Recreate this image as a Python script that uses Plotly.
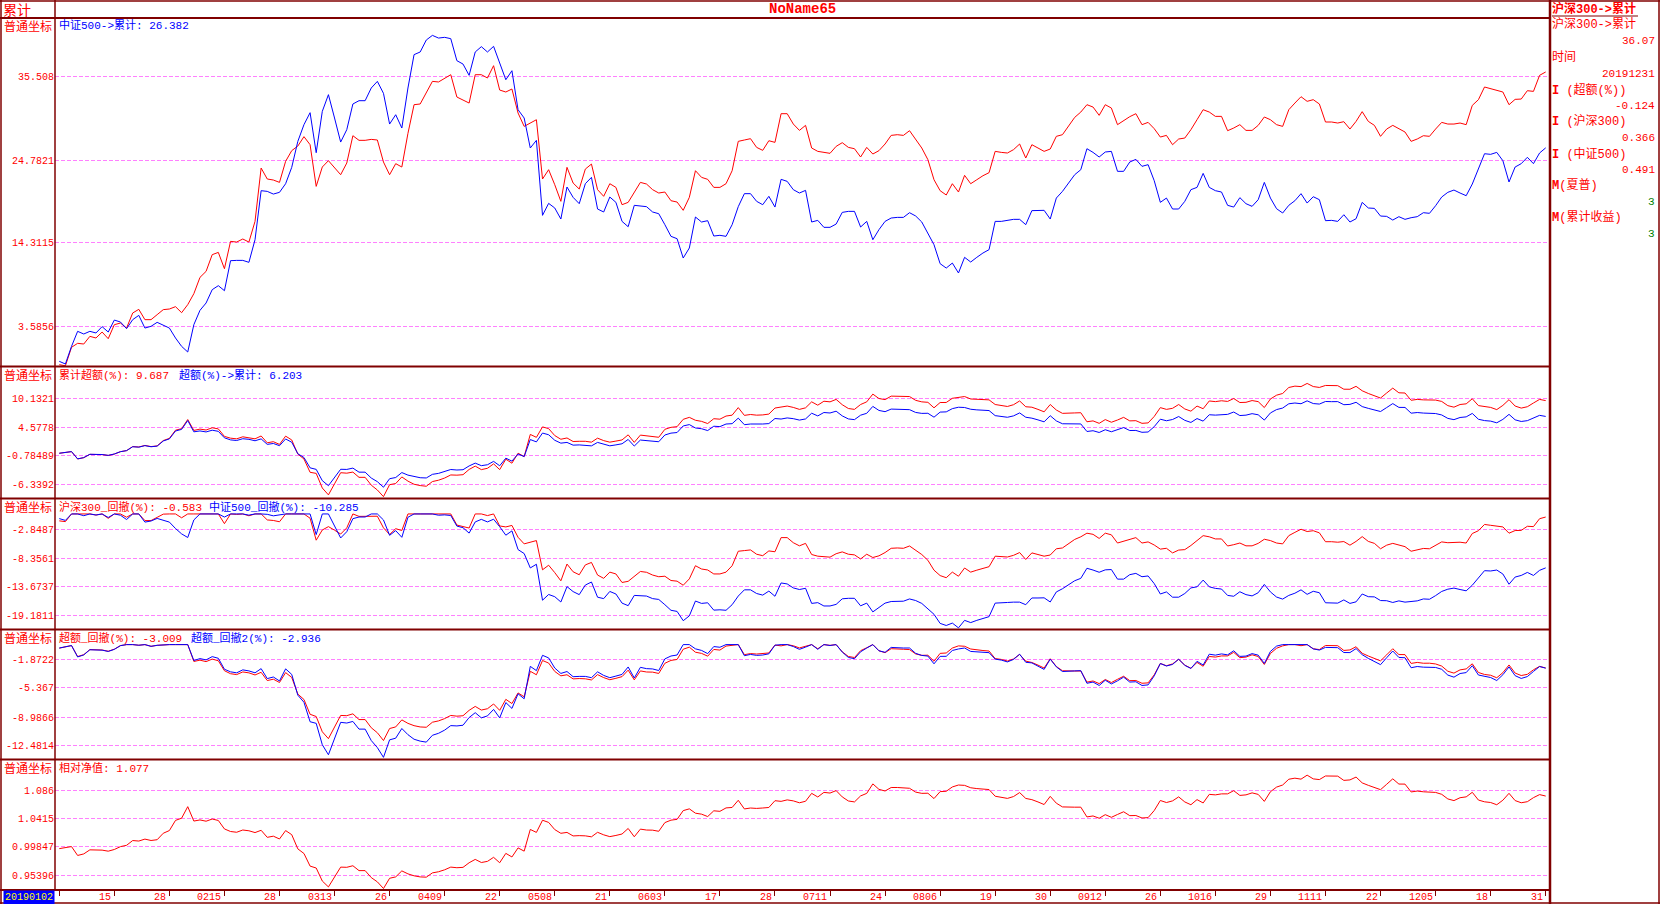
import numpy as np
import plotly.graph_objs as go

# cumulative return (%) since 2018-12-28 close, one value per 2019 trading day
hs300_cum = [
    -1.31, -1.45, 0.91, 1.42, 1.33, 2.31, 2.10, 2.86, 2.01, 3.80,
    4.01, 3.37, 5.29, 5.76, 4.44, 4.44, 5.08, 5.72, 5.80, 6.10,
    5.33, 6.36, 7.76, 9.84, 10.61, 12.74, 13.03, 10.95, 14.44, 14.35,
    14.74, 14.35, 16.99, 23.80, 22.40, 22.27, 21.97, 24.66, 26.02, 26.61,
    27.81, 26.78, 21.46, 23.93, 24.74, 23.89, 22.95, 24.44, 27.93, 27.34,
    27.34, 27.46, 27.38, 24.57, 22.95, 24.36, 23.93, 28.23, 31.89, 31.98,
    33.38, 34.87, 34.79, 35.30, 35.72, 32.87, 32.53, 32.10, 35.72, 35.72,
    35.30, 36.87, 33.76, 33.51, 33.89, 30.83, 29.12, 29.55, 29.97, 22.40,
    23.59, 21.67, 19.55, 23.89, 21.89, 21.12, 23.67, 24.31, 21.04, 20.19,
    21.80, 21.33, 19.12, 19.42, 20.70, 21.97, 21.76, 21.04, 20.61, 20.74,
    19.63, 19.46, 18.40, 20.06, 23.46, 22.61, 22.36, 21.33, 21.33, 21.80,
    23.46, 27.21, 27.38, 27.55, 26.44, 26.06, 27.29, 27.08, 30.74, 30.74,
    29.42, 28.61, 29.25, 26.36, 25.93, 25.80, 25.68, 26.57, 27.04, 26.44,
    26.27, 25.21, 26.44, 25.59, 26.02, 26.87, 27.97, 28.06, 27.97, 28.57,
    27.42, 26.36, 24.87, 22.31, 20.91, 20.36, 21.80, 20.74, 22.87, 21.80,
    22.31, 22.82, 23.21, 25.93, 25.80, 25.72, 26.15, 26.87, 25.08, 26.78,
    26.36, 25.93, 26.23, 27.85, 28.06, 29.12, 30.27, 30.95, 31.89, 31.59,
    30.53, 31.89, 31.46, 29.34, 29.85, 30.36, 30.74, 29.34, 29.63, 28.83,
    27.76, 27.97, 26.78, 27.51, 27.63, 28.70, 29.97, 31.25, 30.95, 30.40,
    30.40, 28.57, 28.91, 29.34, 28.61, 28.61, 29.25, 30.32, 29.97, 29.34,
    29.12, 31.25, 32.10, 32.91, 32.32, 32.53, 31.98, 29.68, 29.68, 29.55,
    29.72, 28.78, 29.76, 31.00, 29.76, 29.25, 27.85, 28.78, 29.25, 28.78,
    28.40, 27.21, 27.51, 27.93, 27.85, 28.78, 29.63, 29.42, 29.42, 29.55,
    29.34, 31.80, 32.53, 34.15, 33.93, 33.76, 33.51, 31.89, 32.57, 32.61,
    33.68, 33.59, 35.64, 36.07,
]

zz500_cum = [
    -0.88, -1.22, 1.03, 2.95, 2.61, 2.95, 2.74, 3.55, 2.86, 4.39,
    4.14, 3.29, 4.44, 4.99, 3.37, 3.59, 4.10, 3.71, 3.37, 2.10,
    1.03, 0.31, 3.80, 5.63, 6.57, 8.27, 8.78, 8.14, 11.97, 12.01,
    12.01, 11.76, 14.65, 20.91, 20.82, 20.48, 20.70, 21.80, 23.89, 27.21,
    29.34, 30.87, 25.76, 31.04, 33.17, 30.19, 27.12, 28.70, 31.98, 32.40,
    32.40, 34.02, 34.87, 33.34, 29.42, 30.61, 28.91, 34.02, 38.28, 38.62,
    40.15, 40.74, 40.40, 40.49, 40.32, 37.51, 37.08, 35.64, 38.62, 39.30,
    38.62, 39.34, 37.34, 35.08, 36.23, 31.25, 30.19, 26.36, 27.34, 17.76,
    19.29, 18.70, 17.29, 21.38, 20.06, 19.25, 21.80, 22.61, 18.57, 18.19,
    20.10, 19.42, 16.99, 16.31, 19.04, 18.91, 18.87, 18.19, 17.97, 16.57,
    15.08, 14.78, 12.31, 13.59, 17.55, 16.91, 17.08, 15.12, 15.21, 15.08,
    16.57, 18.87, 20.53, 20.53, 19.55, 19.12, 20.19, 18.82, 22.36, 22.10,
    21.04, 20.61, 20.95, 16.91, 17.12, 16.23, 16.23, 16.65, 18.14, 18.27,
    18.27, 16.27, 16.99, 14.65, 15.93, 16.99, 17.42, 17.50, 17.50, 18.10,
    17.68, 16.91, 15.51, 14.01, 11.59, 11.03, 11.67, 10.40, 12.40, 11.80,
    12.40, 12.95, 13.38, 16.99, 16.99, 17.16, 17.25, 17.25, 16.57, 18.36,
    18.36, 18.40, 17.29, 19.97, 20.82, 21.89, 22.95, 23.59, 26.27, 25.80,
    25.21, 25.85, 25.93, 23.38, 23.38, 24.57, 24.91, 24.02, 24.23, 22.19,
    19.42, 19.97, 18.57, 18.57, 19.55, 21.04, 21.33, 23.12, 21.33, 20.91,
    20.74, 19.04, 18.82, 20.02, 19.25, 18.91, 19.76, 21.97, 19.97, 18.61,
    18.06, 19.04, 19.63, 20.53, 19.33, 20.14, 19.76, 17.08, 17.12, 16.99,
    17.84, 16.91, 17.33, 19.42, 18.70, 18.65, 17.67, 17.63, 17.16, 17.59,
    17.25, 17.46, 17.59, 18.10, 18.02, 18.99, 20.10, 20.70, 20.99, 20.61,
    20.27, 21.76, 23.80, 25.63, 25.55, 25.80, 24.74, 22.02, 23.93, 24.36,
    25.17, 24.36, 25.72, 26.38,
]

# bottom axis: trading day index and its label
tick_idx = [0, 9, 18, 27, 36, 45, 54, 63, 72, 81, 90, 99, 108, 117,
            126, 135, 144, 153, 162, 171, 180, 189, 198, 207, 216, 225, 234, 243]
tick_lab = ["20190102", "15", "28", "0215", "28", "0313", "26", "0409", "22", "0508",
            "21", "0603", "17", "28", "0711", "24", "0806", "19", "30", "0912",
            "26", "1016", "29", "1111", "22", "1205", "18", "31"]

p1_ticks = [35.508, 24.7821, 14.3115, 3.5856]
p2_ticks = [10.1321, 4.5778, -0.78489, -6.3392]
p3_ticks = [-2.8487, -8.3561, -13.6737, -19.1811]
p4_ticks = [-1.8722, -5.367, -8.9866, -12.4814]
p5_ticks = [1.086, 1.0415, 0.99847, 0.95396]

panel_labels = [
    [("中证500->累计: 26.382", "blue", 57)],
    [("累计超额(%): 9.687", "red", 57), ("超额(%)->累计: 6.203", "blue", 177)],
    [("沪深300_回撤(%): -0.583", "red", 57), ("中证500_回撤(%): -10.285", "blue", 207)],
    [("超额_回撤(%): -3.009", "red", 57), ("超额_回撤2(%): -2.936", "blue", 189)],
    [("相对净值: 1.077", "red", 57)],
]

side_items = [
    ("沪深300->累计", "36.07", "red"),
    ("时间", "20191231", "red"),
    ("<b>I</b> (超额(%))", "-0.124", "red"),
    ("<b>I</b> (沪深300)", "0.366", "red"),
    ("<b>I</b> (中证500)", "0.491", "red"),
    ("<b>M</b>(夏普)", "3", "green"),
    ("<b>M</b>(累计收益)", "3", "green"),
]
side_y = [25, 58, 90, 122, 154, 186, 218]

# ---- derived series
n3 = 1 + np.array(hs300_cum) / 100
n5 = 1 + np.array(zz500_cum) / 100
days = np.arange(len(n3))

exc_cum = (n3 - n5) * 100
r3 = n3 / np.r_[1.0, n3[:-1]] - 1
r5 = n5 / np.r_[1.0, n5[:-1]] - 1
exc_sum = np.cumsum(r3 - r5) * 100
rel_nav = n3 / n5


def drawdown(nav):
    peak = np.maximum.accumulate(np.r_[1.0, nav])[1:]
    return (nav / peak - 1) * 100


dd3 = drawdown(n3)
dd5 = drawdown(n5)
dd_rel = drawdown(rel_nav)
dd_exc = drawdown(1 + exc_cum / 100)

# ---- page geometry (pixels)
L, R, T, B = 55, 1549, 18, 890
W, H = 1660, 904
edges = [18, 366.5, 498.5, 629.5, 759.5, 890]
DARK = "#800000"
RED = "#ff0000"
BLUE = "#0000ff"
MONO = "Liberation Mono, Noto Sans CJK SC"
CJK = "Noto Sans CJK SC"


def px(x):
    return (x - L) / (R - L)


def py(y):
    return (B - y) / (B - T)


series = [
    (hs300_cum, RED, "y"), (zz500_cum, BLUE, "y"),
    (exc_cum, RED, "y2"), (exc_sum, BLUE, "y2"),
    (dd3, RED, "y3"), (dd5, BLUE, "y3"),
    (dd_rel, RED, "y4"), (dd_exc, BLUE, "y4"),
    (rel_nav, RED, "y5"),
]
data = [go.Scatter(x=days, y=vals, xaxis="x", yaxis=ax, mode="lines",
                   line=dict(color=col, width=1), hoverinfo="skip")
        for vals, col, ax in series]

ranges = [[-1.54, 42.96], [-9.126, 16.244], [-21.868, 2.924],
          [-14.241, 1.871], [0.93193, 1.13299]]
ticks = [p1_ticks, p2_ticks, p3_ticks, p4_ticks, p5_ticks]

layout = go.Layout(
    width=W, height=H,
    margin=dict(l=L, r=W - R, t=T, b=H - B, pad=0, autoexpand=False),
    paper_bgcolor="white", plot_bgcolor="white",
    showlegend=False, hovermode=False,
    xaxis=dict(domain=[0, 1], range=[-0.70, 243.54], anchor="y5",
               automargin=False,
               showgrid=False, zeroline=False, showline=False,
               tickvals=tick_idx, ticks="outside", ticklen=5, tickwidth=1,
               tickcolor=DARK, showticklabels=False),
)

for k in range(5):
    name = "yaxis" if k == 0 else "yaxis%d" % (k + 1)
    layout[name] = dict(
        domain=[py(edges[k + 1]), py(edges[k])], range=ranges[k], anchor="x",
        automargin=False,
        tickvals=ticks[k], ticktext=[str(v) for v in ticks[k]],
        tickfont=dict(family="Liberation Mono", size=10, color=RED),
        ticks="", showgrid=True, gridcolor="#ff80ff", gridwidth=1,
        griddash="4px,2px", zeroline=False, showline=False)

shapes = []


def hline(y, x0, x1, w=1.5):
    shapes.append(dict(type="line", xref="paper", yref="paper",
                       x0=px(x0), x1=px(x1), y0=py(y), y1=py(y),
                       line=dict(color=DARK, width=w), layer="above"))


def vline(x, y0, y1, w=1.5):
    shapes.append(dict(type="line", xref="paper", yref="paper",
                       x0=px(x), x1=px(x), y0=py(y0), y1=py(y1),
                       line=dict(color=DARK, width=w), layer="above"))


for e in edges:
    hline(e, 0, R, 2)
hline(1, 0, W)
hline(903, 0, W)
vline(1, 0, H)
vline(W - 1, 0, H)
vline(L, 0, B)
vline(R + 1, 0, H, 2.5)
hline(16, R + 3, 1638, 1)

annotations = []


def text(x, y, s, color=RED, size=11, family=MONO, anchor="left", **kw):
    annotations.append(dict(x=px(x), y=py(y), xref="paper", yref="paper",
                            text=s, showarrow=False, xanchor=anchor,
                            yanchor="middle",
                            font=dict(family=family, size=size, color=color),
                            **kw))


text(1, 9, "累计", size=14, family=CJK)
text(802, 9, "<b>NoName65</b>", size=14, family="Liberation Mono", anchor="center")
text(1550, 9, "<b>沪深300->累计</b>", size=12)

for k in range(5):
    text(2, edges[k] + 8, "普通坐标", size=12, family=CJK)
    for s, col, x in panel_labels[k]:
        text(x, edges[k] + 8, s, color=RED if col == "red" else BLUE)

for (name, val, col), y in zip(side_items, side_y):
    text(1550, y, name, size=12)
    text(1657, y + 16, val, color=RED if col == "red" else "#008000",
         family="Liberation Mono", anchor="right")

for i, lab in zip(tick_idx, tick_lab):
    first = i == tick_idx[0]
    annotations.append(dict(
        x=i, xref="x", y=py(897), yref="paper", text=lab, showarrow=False,
        xanchor="right", yanchor="middle", xshift=-4 if first else -1,
        font=dict(family="Liberation Mono", size=10,
                  color="#ffff00" if first else RED),
        bgcolor=BLUE if first else None, borderpad=1))

layout.shapes = shapes
layout.annotations = annotations

fig = go.Figure(data=data, layout=layout)
fig.write_html("out.html", config={"displayModeBar": False},
               post_script="document.body.style.margin='0';"
                           "document.body.style.overflow='hidden';")
